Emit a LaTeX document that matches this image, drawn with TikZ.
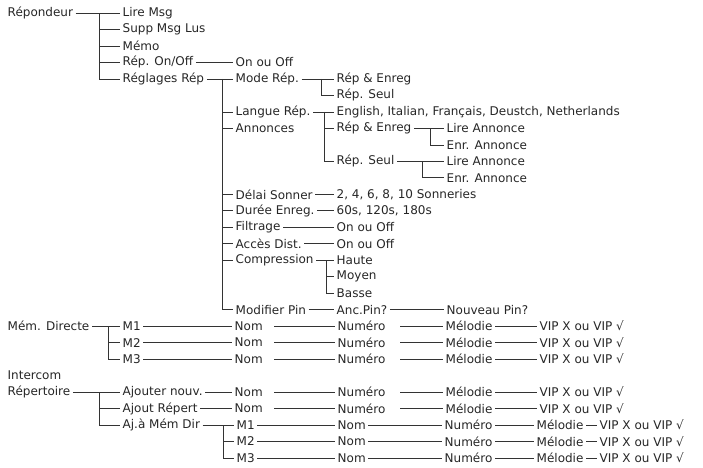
\documentclass[tikz,border=0pt]{standalone}
\usepackage{fontspec}
\setmainfont{DejaVu Sans}
\tikzset{
  item/.style={anchor=west, inner sep=2.5pt, text=black!85,
    font=\fontsize{12}{14}\selectfont},
  cell/.style={item, text width=#1, align=left},
  link/.style={line width=0.7pt, black!80}
}
\begin{document}
\begin{tikzpicture}[x=1pt, y=-16.48pt]
  \useasboundingbox (0,0.211) rectangle (703,28.549);

  % Répondeur
  \node[item] (rep) at (5,1) {Répondeur};
  \node[item] (lire) at (120,1) {Lire Msg};
  \node[item] (supp) at (120,2) {Supp Msg Lus};
  \node[item] (memo) at (120,3) {Mémo};
  \node[item] (onoff) at (120,4) {Rép. On/Off};
  \node[item] (regl) at (120,5) {Réglages Rép};
  \node[item] (onoffv) at (233,4) {On ou Off};

  \coordinate (repbus) at (99,1);
  \draw[link] (rep) -- (lire);
  \draw[link] (repbus) |- (regl);
  \foreach \c in {supp,memo,onoff}
    \draw[link] (repbus |- \c) -- (\c);
  \draw[link] (onoff) -- (onoffv);

  % Réglages Rép
  \node[item] (mode) at (233,5) {Mode Rép.};
  \node[item] (langue) at (233,7) {Langue Rép.};
  \node[item] (annon) at (233,8) {Annonces};
  \node[item] (delai) at (233,12) {Délai Sonner};
  \node[item] (duree) at (233,13) {Durée Enreg.};
  \node[item] (filt) at (233,14) {Filtrage};
  \node[item] (acces) at (233,15) {Accès Dist.};
  \node[item] (comp) at (233,16) {Compression};
  \node[item] (pin) at (233,19) {Modifier Pin};

  \coordinate (reglbus) at (222,5);
  \draw[link] (regl) -- (mode);
  \draw[link] (reglbus) |- (pin);
  \foreach \c in {langue,annon,delai,duree,filt,acces,comp}
    \draw[link] (reglbus |- \c) -- (\c);

  % Mode Rép.
  \node[item] (modeA) at (334,5) {Rép \& Enreg};
  \node[item] (modeB) at (334,6) {Rép. Seul};
  \coordinate (modebus) at (321,5);
  \draw[link] (mode) -- (modeA);
  \draw[link] (modebus) |- (modeB);

  % Langue et annonces
  \node[item] (langv) at (334,7) {English, Italian, Français, Deustch, Netherlands};
  \node[item] (annA) at (334,8) {Rép \& Enreg};
  \node[item] (annB) at (334,10) {Rép. Seul};
  \coordinate (langbus) at (324,7);
  \draw[link] (langue) -- (langv);
  \draw[link] (langbus) |- (annB);
  \draw[link] (langbus |- annA) -- (annA);

  \node[item] (annAl) at (444,8) {Lire Annonce};
  \node[item] (annAe) at (444,9) {Enr. Annonce};
  \node[item] (annBl) at (444,10) {Lire Annonce};
  \node[item] (annBe) at (444,11) {Enr. Annonce};
  \coordinate (annAbus) at (430,8);
  \coordinate (annBbus) at (422,10);
  \draw[link] (annA) -- (annAl);
  \draw[link] (annAbus) |- (annAe);
  \draw[link] (annB) -- (annBl);
  \draw[link] (annBbus) |- (annBe);

  % Valeurs simples
  \node[item] (delaiv) at (334,12) {2, 4, 6, 8, 10 Sonneries};
  \node[item] (dureev) at (334,13) {60s, 120s, 180s};
  \node[item] (filtv) at (334,14) {On ou Off};
  \node[item] (accesv) at (334,15) {On ou Off};
  \draw[link] (delai) -- (delaiv);
  \draw[link] (duree) -- (dureev);
  \draw[link] (filt) -- (filtv);
  \draw[link] (acces) -- (accesv);

  % Compression
  \node[item] (compA) at (334,16) {Haute};
  \node[item] (compB) at (334,17) {Moyen};
  \node[item] (compC) at (334,18) {Basse};
  \coordinate (compbus) at (326,16);
  \draw[link] (comp) -- (compA);
  \draw[link] (compbus) |- (compC);
  \draw[link] (compbus |- compB) -- (compB);

  % Pin
  \node[item] (pinA) at (334,19) {Anc.Pin?};
  \node[item] (pinB) at (444,19) {Nouveau Pin?};
  \draw[link] (pin) -- (pinA) (pinA) -- (pinB);

  % Mém. Directe
  \node[item] (memdir) at (5,20) {Mém. Directe};
  \foreach \i/\r in {1/20,2/21,3/22} {
    \node[item] (dm\i) at (120,\r) {M\i};
    \node[cell=37pt] (dnom\i) at (232,\r) {Nom};
    \node[cell=60pt] (dnum\i) at (335,\r) {Numéro};
    \node[item] (dmel\i) at (443,\r) {Mélodie};
    \node[item] (dvip\i) at (537,\r) {VIP X ou VIP √};
    \draw[link] (dm\i) -- (dnom\i) (dnom\i) -- (dnum\i)
      (dnum\i) -- (dmel\i) (dmel\i) -- (dvip\i);
  }
  \coordinate (memdirbus) at (108,20);
  \draw[link] (memdir) -- (dm1);
  \draw[link] (memdirbus) |- (dm3);
  \draw[link] (memdirbus |- dm2) -- (dm2);

  % Intercom / Répertoire
  \node[item] (inter) at (5,23) {Intercom};
  \node[item] (repert) at (5,24) {Répertoire};
  \node[item] (ajout) at (120,24) {Ajouter nouv.};
  \node[item] (ajrep) at (120,25) {Ajout Répert};
  \node[item] (ajmem) at (120,26) {Aj.à Mém Dir};
  \foreach \c/\r in {ajout/24,ajrep/25} {
    \node[cell=37pt] (\c nom) at (232,\r) {Nom};
    \node[cell=60pt] (\c num) at (335,\r) {Numéro};
    \node[item] (\c mel) at (443,\r) {Mélodie};
    \node[item] (\c vip) at (537,\r) {VIP X ou VIP √};
    \draw[link] (\c) -- (\c nom) (\c nom) -- (\c num)
      (\c num) -- (\c mel) (\c mel) -- (\c vip);
  }
  \coordinate (repertbus) at (99,24);
  \draw[link] (repert) -- (ajout);
  \draw[link] (repertbus) |- (ajmem);
  \draw[link] (repertbus |- ajrep) -- (ajrep);

  % Aj.à Mém Dir
  \foreach \i/\r in {1/26,2/27,3/28} {
    \node[item] (am\i) at (234,\r) {M\i};
    \node[item] (anom\i) at (335,\r) {Nom};
    \node[item] (anum\i) at (442,\r) {Numéro};
    \node[item] (amel\i) at (534,\r) {Mélodie};
    \node[item] (avip\i) at (597,\r) {VIP X ou VIP √};
    \draw[link] (am\i) -- (anom\i) (anom\i) -- (anum\i)
      (anum\i) -- (amel\i) (amel\i) -- (avip\i);
  }
  \coordinate (ajmembus) at (223,26);
  \draw[link] (ajmem) -- (am1);
  \draw[link] (ajmembus) |- (am3);
  \draw[link] (ajmembus |- am2) -- (am2);
\end{tikzpicture}
\end{document}
